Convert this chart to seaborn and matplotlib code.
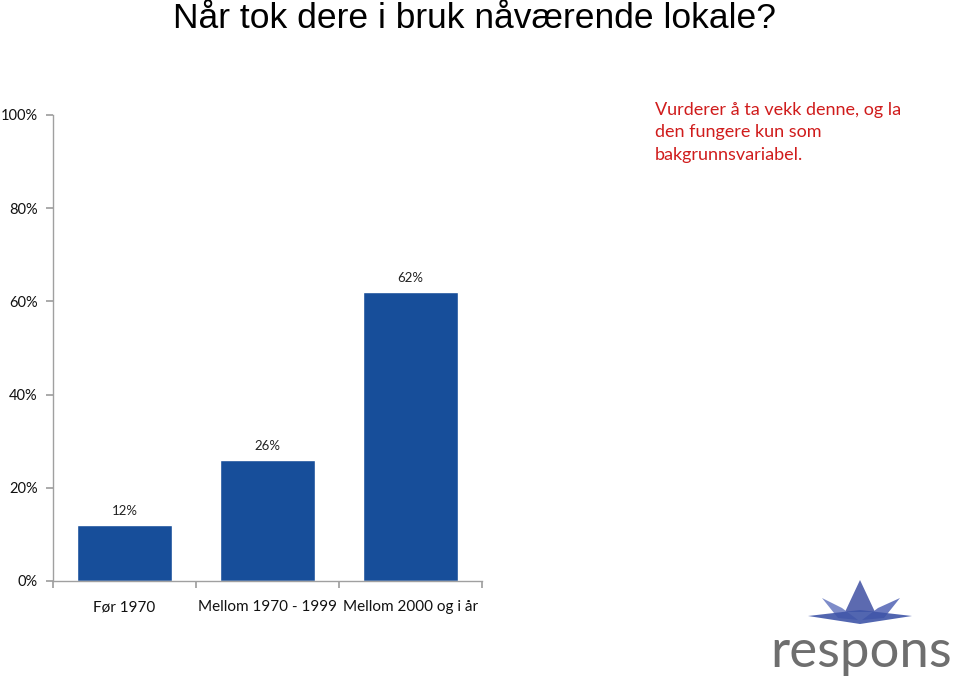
import matplotlib
matplotlib.use("Agg")
import matplotlib.pyplot as plt
import seaborn as sns
import pandas as pd
from matplotlib.patches import Polygon

categories = ["Før 1970", "Mellom 1970 - 1999", "Mellom 2000 og i år"]
values = [12, 26, 62]
value_labels = ["12%", "26%", "62%"]
yticks = [0, 20, 40, 60, 80, 100]
ytick_labels = ["0%", "20%", "40%", "60%", "80%", "100%"]
title = "Når tok dere i bruk nåværende lokale?"
note = "Vurderer å ta vekk denne, og la\nden fungere kun som\nbakgrunnsvariabel."

sns.set_theme(style="white")
plt.rcParams["font.family"] = ["Lato", "DejaVu Sans"]

df = pd.DataFrame({"cat": categories, "val": values})

fig = plt.figure(figsize=(9.6, 6.82), dpi=100)
ax = fig.add_axes([53/960, 1-581/682, (482-53)/960, (581-115)/682])
sns.barplot(data=df, x="cat", y="val", color="#174e9a", saturation=1, width=0.66, ax=ax)

ax.set_ylim(0, 100)
ax.set_xlim(-0.5, 2.5)
ax.set_yticks(yticks)
ax.set_yticklabels(ytick_labels, fontsize=10.5, color="#111111")
ax.set_xticks([-0.5, 0.5, 1.5, 2.5], minor=False)
ax.set_xticklabels([])
ax.set_xticks([0, 1, 2], minor=True)
ax.set_xticklabels(categories, minor=True, fontsize=11, color="#111111")
ax.tick_params(axis="x", which="major", length=5, color="#a0a0a0", direction="out", bottom=True)
ax.tick_params(axis="x", which="minor", length=0, pad=14)
ax.tick_params(axis="y", length=5, color="#a0a0a0", direction="out", left=True, pad=6)
ax.set_xlabel("")
ax.set_ylabel("")
for s in ["top", "right"]:
    ax.spines[s].set_visible(False)
for s in ["left", "bottom"]:
    ax.spines[s].set_color("#a0a0a0")
    ax.spines[s].set_linewidth(1)

for i, (v, lab) in enumerate(zip(values, value_labels)):
    ax.annotate(lab, (i, v), xytext=(0, 5.5), textcoords="offset points",
                ha="center", va="bottom", fontsize=9.5, color="#222222")

fig.text(173/960, 1-18/682, title, fontsize=25.5, family=["Liberation Sans", "DejaVu Sans"],
         ha="left", va="center", color="#000000")
fig.text(655/960, 1-102/682, note, fontsize=13, color="#d01c1c", ha="left", va="top",
         linespacing=1.5)

# logo
lx = lambda x: x/960
ly = lambda y: 1-y/682
petals = [
    [(860, 580), (845, 612), (875, 612)],
    [(822, 598), (838, 618), (858, 620), (842, 608)],
    [(900, 598), (884, 618), (862, 620), (878, 608)],
    [(808, 616), (860, 624), (912, 616), (860, 610)],
]
cols = ["#4a5aa8", "#7080c4", "#5b6cb8", "#3f55a8"]
for pts, c in zip(petals, cols):
    fig.patches.append(Polygon([(lx(x), ly(y)) for x, y in pts], closed=True,
                               transform=fig.transFigure, facecolor=c, edgecolor="none", alpha=0.9))
fig.text(lx(861), ly(652), "respons", fontsize=38, color="#6e6e6e", ha="center", va="center",
         family=["Lato", "DejaVu Sans"])

fig.savefig("out.png", dpi=100)
